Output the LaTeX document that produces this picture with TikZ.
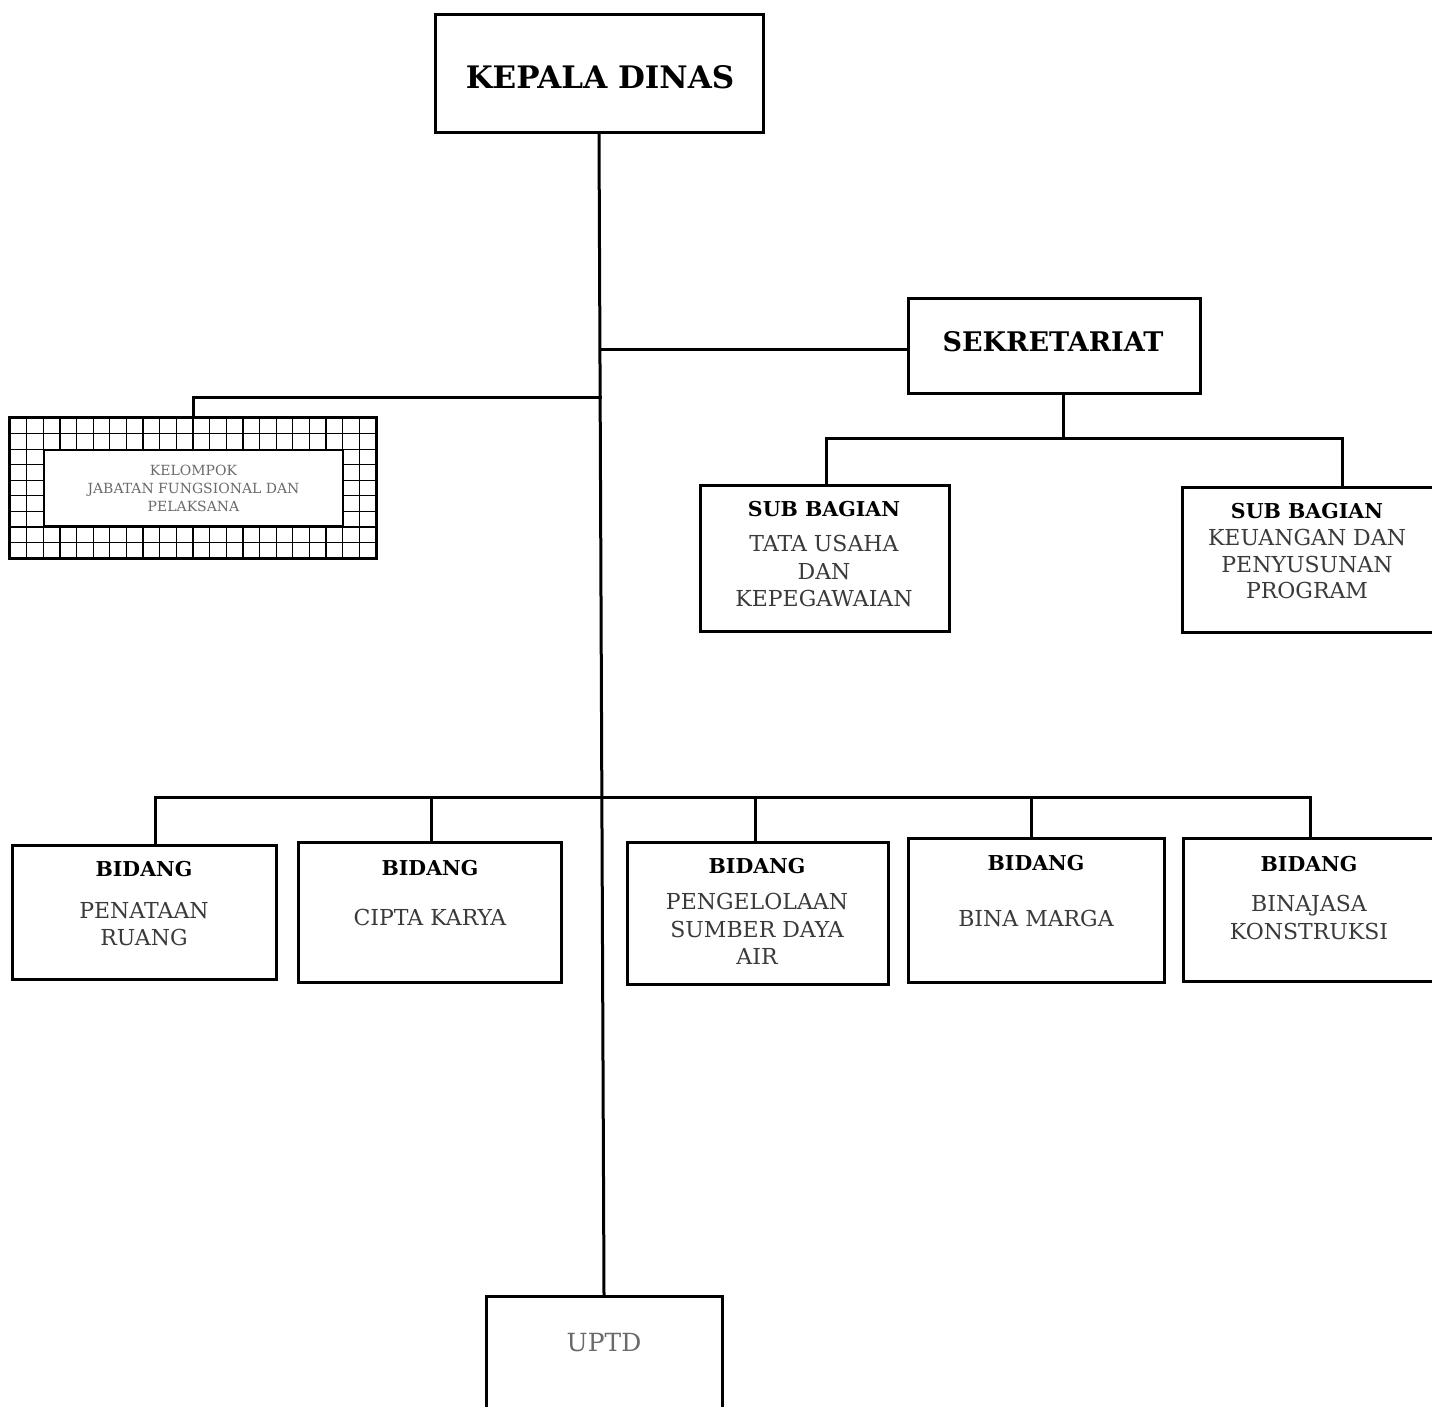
\documentclass[tikz,border=0pt]{standalone}
\usepackage{fontspec}
\setmainfont{DejaVu Serif}
\definecolor{ink}{HTML}{3a3a3a}
\definecolor{pale}{HTML}{6a6a6a}
\def\lw{3pt}

\begin{document}
\begin{tikzpicture}[x=1pt,y=-1pt,
  box/.style={draw,line width=\lw,inner sep=0pt,fill=white},
  head/.style={font=\bfseries\fontsize{20.5}{26}\selectfont,inner sep=0pt},
  body/.style={font=\fontsize{22}{27.5}\selectfont,text=ink,align=center,inner sep=0pt},
  link/.style={line width=\lw,line cap=rect}]
\useasboundingbox (0,0) rectangle (1432,1406);
\clip (0,0) rectangle (1432,1406);

% kepala dinas and sekretariat
\node[box,minimum width=328pt,minimum height=118pt] (kepala) at (599,73) {};
\node[font=\bfseries\fontsize{31}{36}\selectfont,inner sep=0pt] (kepalat) at (600,77) {KEPALA DINAS};
\node[box,minimum width=292pt,minimum height=95pt] (sekre) at (1054,345.5) {};
\node[font=\bfseries\fontsize{27}{32}\selectfont,inner sep=0pt] (sekret) at (1053,342) {SEKRETARIAT};

% sub bagian
\node[box,minimum width=249pt,minimum height=146pt] (tu) at (824.5,558) {};
\node[head] (tuh) at (824,509) {SUB BAGIAN};
\node[body] (tub) at (824,571) {TATA USAHA\\DAN\\KEPEGAWAIAN};
\node[box,minimum width=263pt,minimum height=145pt] (ku) at (1313.5,559.5) {};
\node[head] (kuh) at (1307,511) {SUB BAGIAN};
\node[body,font=\fontsize{22}{26.5}\selectfont] (kub) at (1307,564) {KEUANGAN DAN\\PENYUSUNAN\\PROGRAM};

% kelompok jabatan fungsional
\node[box,line width=2pt,minimum width=366pt,minimum height=140pt] (kel) at (193,488) {};
\begin{scope}
\clip (10,418) rectangle (376,558);
\foreach \i in {0,...,22}
  \draw[line width=1.2pt] (10+\i*16.636,418) -- (10+\i*16.636,558);
\foreach \j in {0,...,9}
  \draw[line width=1.2pt] (10,418+\j*15.56) -- (376,418+\j*15.56);
\end{scope}
\draw[line width=2pt] (kel.north west) rectangle (kel.south east);
\node[box,line width=2.5pt,minimum width=299pt,minimum height=76pt,
  font=\fontsize{14}{18}\selectfont,text=pale,align=center] (kelin) at (193.5,488)
  {KELOMPOK\\JABATAN FUNGSIONAL DAN\\PELAKSANA};

% bidang
\node[box,minimum width=264pt,minimum height=134pt] (pen) at (144,912) {};
\node[head] (penh) at (144,869) {BIDANG};
\node[body] (penb) at (144,924) {PENATAAN\\RUANG};
\node[box,minimum width=263pt,minimum height=140pt] (cip) at (429.5,912) {};
\node[head] (ciph) at (430,868) {BIDANG};
\node[body] (cipb) at (430,917) {CIPTA KARYA};
\node[box,minimum width=261pt,minimum height=142pt] (psda) at (757.5,913) {};
\node[head] (psdah) at (757,866) {BIDANG};
\node[body] (psdab) at (757,929) {PENGELOLAAN\\SUMBER DAYA\\AIR};
\node[box,minimum width=256pt,minimum height=144pt] (bm) at (1036,910) {};
\node[head] (bmh) at (1036,863) {BIDANG};
\node[body] (bmb) at (1036,918) {BINA MARGA};
\node[box,minimum width=262pt,minimum height=143pt] (bjk) at (1314,909.5) {};
\node[head] (bjkh) at (1309,864) {BIDANG};
\node[body] (bjkb) at (1309,917.5) {BINAJASA\\KONSTRUKSI};

% uptd
\node[box,minimum width=236pt,minimum height=150pt] (uptd) at (604,1371) {};
\node[font=\fontsize{25}{30}\selectfont,text=pale,inner sep=0pt] (uptdt) at (604,1343) {UPTD};

% connectors
\coordinate (js) at (600,349);
\coordinate (jk) at (600,397);
\draw[link] (kepala.south) -- (uptd.north);
\draw[link] (js) -- (js -| sekre.west);
\draw[link] (jk) -| (kel.north);

\coordinate (ss) at (1063,438);
\coordinate (s1) at (826,438);
\coordinate (s2) at (1342,438);
\draw[link] (ss |- sekre.south) -- (ss);
\draw[link] (s1 |- tu.north) -- (s1) -- (s2) -- (s2 |- ku.north);

\foreach \n/\x in {pen/155,cip/431,psda/755,bm/1031,bjk/1310}{
  \coordinate (t\n) at (\x,797);
  \draw[link] (t\n) -- (t\n |- \n.north);
}
\draw[link] (tpen) -- (tbjk);
\end{tikzpicture}
\end{document}
